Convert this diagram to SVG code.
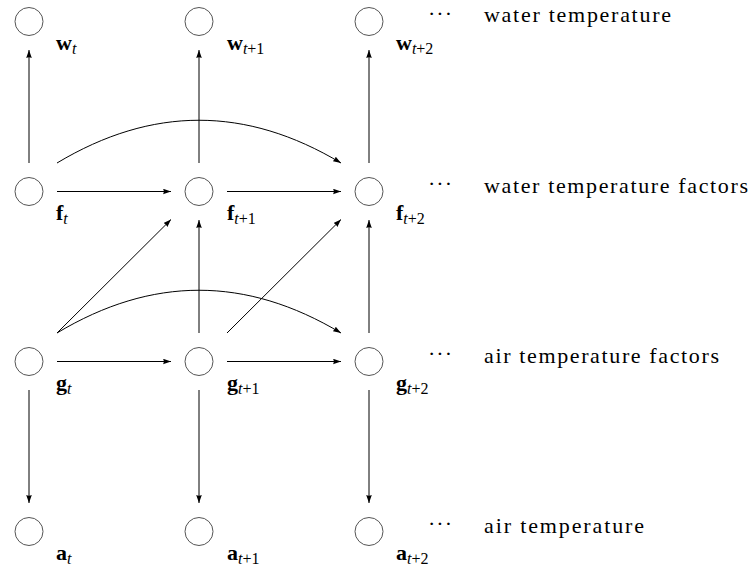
<svg xmlns="http://www.w3.org/2000/svg" width="751" height="569" viewBox="0 0 751 569" font-family="'Liberation Serif', 'DejaVu Serif', Times, serif">
<style>
.node circle{fill:none;stroke:#555;stroke-width:1}
.conn line,.conn path{fill:none;stroke:#000;stroke-width:1;marker-end:url(#ah)}
.lb{font-size:22px}
.b{font-weight:bold}
.s{font-size:16px}
.i{font-style:italic}
.desc{font-size:22px}
.dots{font-size:22px}
</style>
<defs>
<marker id="ah" viewBox="0 0 8 6" refX="8" refY="3" markerWidth="8" markerHeight="6" orient="auto" markerUnits="userSpaceOnUse">
<path d="M0,0.2 L8,3 L0,5.8 Q1.6,3 0,0.2 z" fill="#000"/>
</marker>
</defs>

<g class="conn">
<line x1="29" y1="163" x2="29" y2="50"/>
<line x1="199" y1="163" x2="199" y2="50"/>
<line x1="369" y1="163" x2="369" y2="50"/>
<line x1="57" y1="191.5" x2="171" y2="191.5"/>
<line x1="227" y1="191.5" x2="341" y2="191.5"/>
<path d="M57,163 C152,106 246,106 341,163"/>
<line x1="57" y1="333" x2="171" y2="219.5"/>
<line x1="227" y1="333" x2="341" y2="219.5"/>
<line x1="199" y1="333" x2="199" y2="220"/>
<line x1="369" y1="333" x2="369" y2="220"/>
<line x1="57" y1="361.5" x2="171" y2="361.5"/>
<line x1="227" y1="361.5" x2="341" y2="361.5"/>
<path d="M57,333 C152,276 246,276 341,333"/>
<line x1="29" y1="390" x2="29" y2="503"/>
<line x1="199" y1="390" x2="199" y2="503"/>
<line x1="369" y1="390" x2="369" y2="503"/>
</g>

<g id="w_t" class="node"><circle cx="29" cy="21.5" r="14"/><text class="lb" font-family="Liberation Serif" x="56" y="50"><tspan class="b">w</tspan><tspan class="s i" dy="4">t</tspan></text></g>
<g id="w_t1" class="node"><circle cx="199" cy="21.5" r="14"/><text class="lb" font-family="Liberation Serif" x="227" y="50"><tspan class="b">w</tspan><tspan class="s" dy="4"><tspan class="i">t</tspan>+1</tspan></text></g>
<g id="w_t2" class="node"><circle cx="369" cy="21.5" r="14"/><text class="lb" font-family="Liberation Serif" x="396" y="50"><tspan class="b">w</tspan><tspan class="s" dy="4"><tspan class="i">t</tspan>+2</tspan></text></g>

<g id="f_t" class="node"><circle cx="29" cy="191.5" r="14"/><text class="lb" font-family="Liberation Serif" x="56" y="220"><tspan class="b">f</tspan><tspan class="s i" dy="4">t</tspan></text></g>
<g id="f_t1" class="node"><circle cx="199" cy="191.5" r="14"/><text class="lb" font-family="Liberation Serif" x="227" y="220"><tspan class="b">f</tspan><tspan class="s" dy="4"><tspan class="i">t</tspan>+1</tspan></text></g>
<g id="f_t2" class="node"><circle cx="369" cy="191.5" r="14"/><text class="lb" font-family="Liberation Serif" x="396" y="220"><tspan class="b">f</tspan><tspan class="s" dy="4"><tspan class="i">t</tspan>+2</tspan></text></g>

<g id="g_t" class="node"><circle cx="29" cy="361.5" r="14"/><text class="lb" font-family="Liberation Serif" x="56" y="390"><tspan class="b">g</tspan><tspan class="s i" dy="4">t</tspan></text></g>
<g id="g_t1" class="node"><circle cx="199" cy="361.5" r="14"/><text class="lb" font-family="Liberation Serif" x="227" y="390"><tspan class="b">g</tspan><tspan class="s" dy="4"><tspan class="i">t</tspan>+1</tspan></text></g>
<g id="g_t2" class="node"><circle cx="369" cy="361.5" r="14"/><text class="lb" font-family="Liberation Serif" x="396" y="390"><tspan class="b">g</tspan><tspan class="s" dy="4"><tspan class="i">t</tspan>+2</tspan></text></g>

<g id="a_t" class="node"><circle cx="29" cy="531.5" r="14"/><text class="lb" font-family="Liberation Serif" x="56" y="560"><tspan class="b">a</tspan><tspan class="s i" dy="4">t</tspan></text></g>
<g id="a_t1" class="node"><circle cx="199" cy="531.5" r="14"/><text class="lb" font-family="Liberation Serif" x="227" y="560"><tspan class="b">a</tspan><tspan class="s" dy="4"><tspan class="i">t</tspan>+1</tspan></text></g>
<g id="a_t2" class="node"><circle cx="369" cy="531.5" r="14"/><text class="lb" font-family="Liberation Serif" x="396" y="560"><tspan class="b">a</tspan><tspan class="s" dy="4"><tspan class="i">t</tspan>+2</tspan></text></g>

<g id="legend">
<text class="dots" font-family="Liberation Serif" x="428" y="21" textLength="24" lengthAdjust="spacing">···</text>
<text class="dots" font-family="Liberation Serif" x="428" y="191" textLength="24" lengthAdjust="spacing">···</text>
<text class="dots" font-family="Liberation Serif" x="428" y="361" textLength="24" lengthAdjust="spacing">···</text>
<text class="dots" font-family="Liberation Serif" x="428" y="531" textLength="24" lengthAdjust="spacing">···</text>
<text class="desc" font-family="Liberation Serif" x="484" y="22" textLength="187" lengthAdjust="spacing">water temperature</text>
<text class="desc" font-family="Liberation Serif" x="484" y="193" textLength="264" lengthAdjust="spacing">water temperature factors</text>
<text class="desc" font-family="Liberation Serif" x="484" y="363" textLength="235" lengthAdjust="spacing">air temperature factors</text>
<text class="desc" font-family="Liberation Serif" x="484" y="533" textLength="160" lengthAdjust="spacing">air temperature</text>
</g>
</svg>
